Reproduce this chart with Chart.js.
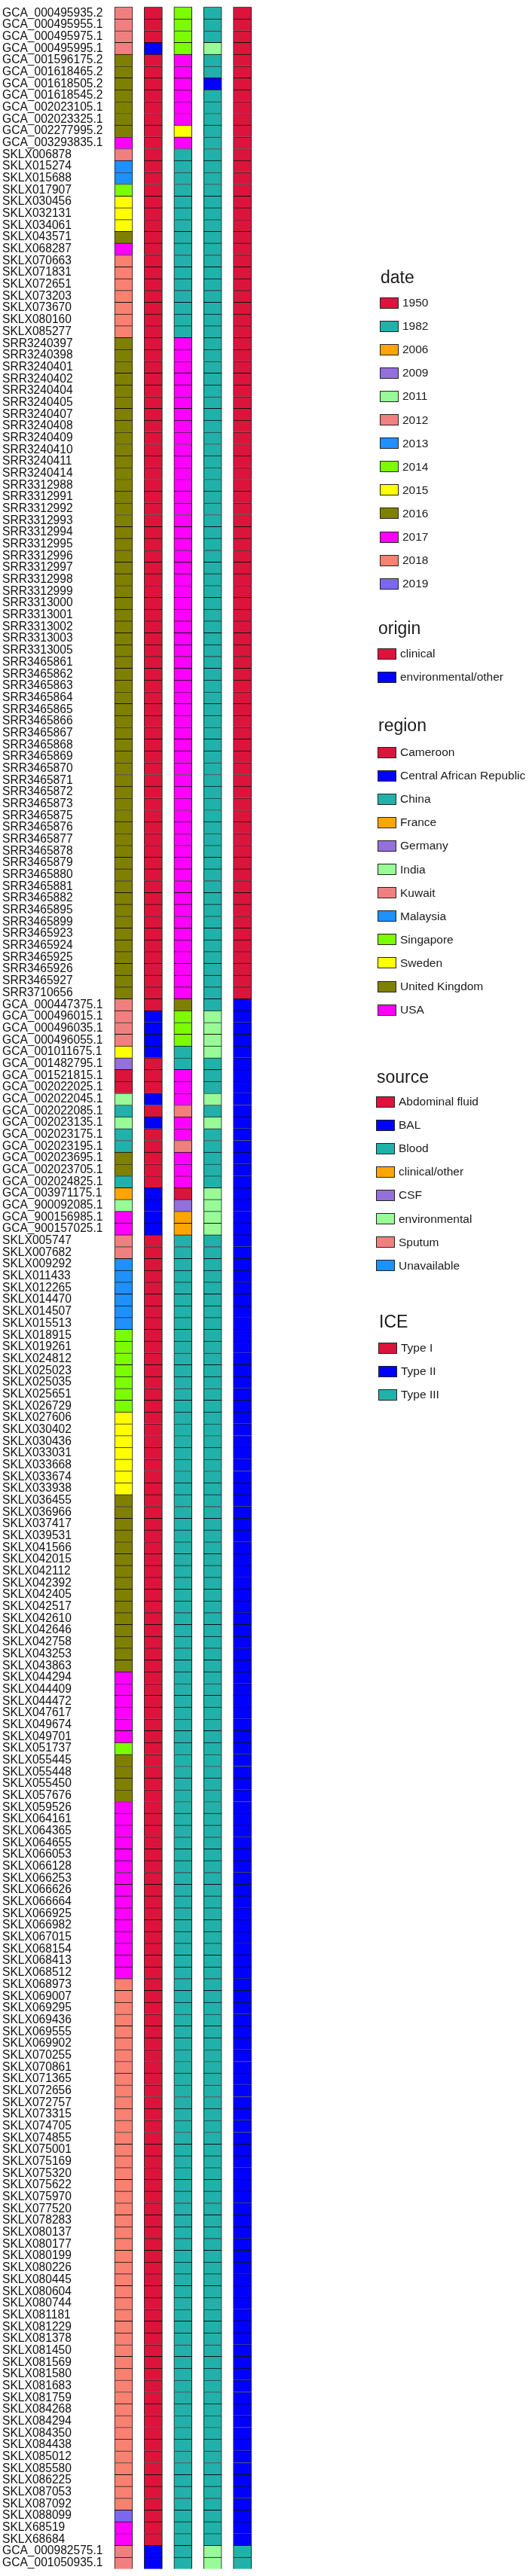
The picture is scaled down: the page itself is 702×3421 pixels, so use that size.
<!DOCTYPE html>
<html>
<head>
<meta charset="utf-8">
<script src="https://cdn.jsdelivr.net/npm/chart.js@4.4.0/dist/chart.umd.min.js"></script>
<style>
  html, body { margin: 0; padding: 0; background: #fff; }
  #wrap { position: relative; width: 702px; height: 3421px; }
  #heat-box { position: absolute; left: 0; top: 0; width: 702px; height: 3421px; }
  .lg { position: absolute; font-family: "Liberation Sans", Arial, sans-serif; color: #1a1a1a; white-space: nowrap; }
  .lg-title { font-size: 23px; line-height: 26px; }
  .lg-item { display: flex; align-items: center; font-size: 15.5px; height: 20px; }
  .lg-key { width: 25px; height: 15px; box-sizing: border-box; border: 1px solid #222; margin-right: 5px; }
</style>
</head>
<body>
<div id="wrap">
  <div id="heat-box"><canvas id="heatmap"></canvas></div>
  <div id="legend"></div>
</div>
<script>
// sample names, top to bottom
const sampleIds = [
  'GCA_000495935.2','GCA_000495955.1','GCA_000495975.1','GCA_000495995.1','GCA_001596175.2','GCA_001618465.2','GCA_001618505.2','GCA_001618545.2','GCA_002023105.1','GCA_002023325.1',
  'GCA_002277995.2','GCA_003293835.1','SKLX006878','SKLX015274','SKLX015688','SKLX017907','SKLX030456','SKLX032131','SKLX034061','SKLX043571',
  'SKLX068287','SKLX070663','SKLX071831','SKLX072651','SKLX073203','SKLX073670','SKLX080160','SKLX085277','SRR3240397','SRR3240398',
  'SRR3240401','SRR3240402','SRR3240404','SRR3240405','SRR3240407','SRR3240408','SRR3240409','SRR3240410','SRR3240411','SRR3240414',
  'SRR3312988','SRR3312991','SRR3312992','SRR3312993','SRR3312994','SRR3312995','SRR3312996','SRR3312997','SRR3312998','SRR3312999',
  'SRR3313000','SRR3313001','SRR3313002','SRR3313003','SRR3313005','SRR3465861','SRR3465862','SRR3465863','SRR3465864','SRR3465865',
  'SRR3465866','SRR3465867','SRR3465868','SRR3465869','SRR3465870','SRR3465871','SRR3465872','SRR3465873','SRR3465875','SRR3465876',
  'SRR3465877','SRR3465878','SRR3465879','SRR3465880','SRR3465881','SRR3465882','SRR3465895','SRR3465899','SRR3465923','SRR3465924',
  'SRR3465925','SRR3465926','SRR3465927','SRR3710656','GCA_000447375.1','GCA_000496015.1','GCA_000496035.1','GCA_000496055.1','GCA_001011675.1','GCA_001482795.1',
  'GCA_001521815.1','GCA_002022025.1','GCA_002022045.1','GCA_002022085.1','GCA_002023135.1','GCA_002023175.1','GCA_002023195.1','GCA_002023695.1','GCA_002023705.1','GCA_002024825.1',
  'GCA_003971175.1','GCA_900092085.1','GCA_900156985.1','GCA_900157025.1','SKLX005747','SKLX007682','SKLX009292','SKLX011433','SKLX012265','SKLX014470',
  'SKLX014507','SKLX015513','SKLX018915','SKLX019261','SKLX024812','SKLX025023','SKLX025035','SKLX025651','SKLX026729','SKLX027606',
  'SKLX030402','SKLX030436','SKLX033031','SKLX033668','SKLX033674','SKLX033938','SKLX036455','SKLX036966','SKLX037417','SKLX039531',
  'SKLX041566','SKLX042015','SKLX042112','SKLX042392','SKLX042405','SKLX042517','SKLX042610','SKLX042646','SKLX042758','SKLX043253',
  'SKLX043863','SKLX044294','SKLX044409','SKLX044472','SKLX047617','SKLX049674','SKLX049701','SKLX051737','SKLX055445','SKLX055448',
  'SKLX055450','SKLX057676','SKLX059526','SKLX064161','SKLX064365','SKLX064655','SKLX066053','SKLX066128','SKLX066253','SKLX066626',
  'SKLX066664','SKLX066925','SKLX066982','SKLX067015','SKLX068154','SKLX068413','SKLX068512','SKLX068973','SKLX069007','SKLX069295',
  'SKLX069436','SKLX069555','SKLX069902','SKLX070255','SKLX070861','SKLX071365','SKLX072656','SKLX072757','SKLX073315','SKLX074705',
  'SKLX074855','SKLX075001','SKLX075169','SKLX075320','SKLX075622','SKLX075970','SKLX077520','SKLX078283','SKLX080137','SKLX080177',
  'SKLX080199','SKLX080226','SKLX080445','SKLX080604','SKLX080744','SKLX081181','SKLX081229','SKLX081378','SKLX081450','SKLX081569',
  'SKLX081580','SKLX081683','SKLX081759','SKLX084268','SKLX084294','SKLX084350','SKLX084438','SKLX085012','SKLX085580','SKLX086225',
  'SKLX087053','SKLX087092','SKLX088099','SKLX68519','SKLX68684','GCA_000982575.1','GCA_001050935.1'
];

// legend levels and their colours
const dateLevels = [1950, 1982, 2006, 2009, 2011, 2012, 2013, 2014, 2015, 2016, 2017, 2018, 2019];
const dateColors = ['#DC143C','#20B2AA','#FFA500','#9370DB','#98FB98','#F08080','#1E90FF','#7CFC00','#FFFF00','#808000','#FF00FF','#FA8072','#7B68EE'];
const originLevels = ['clinical', 'environmental/other'];
const originColors = ['#DC143C', '#0000FF'];
const regionLevels = ['Cameroon','Central African Republic','China','France','Germany','India','Kuwait','Malaysia','Singapore','Sweden','United Kingdom','USA'];
const regionColors = ['#DC143C','#0000FF','#20B2AA','#FFA500','#9370DB','#98FB98','#F08080','#1E90FF','#7CFC00','#FFFF00','#808000','#FF00FF'];
const sourceLevels = ['Abdominal fluid','BAL','Blood','clinical/other','CSF','environmental','Sputum','Unavailable'];
const sourceColors = ['#DC143C','#0000FF','#20B2AA','#FFA500','#9370DB','#98FB98','#F08080','#1E90FF'];
const iceLevels = ['Type I','Type II','Type III'];
const iceColors = ['#DC143C','#0000FF','#20B2AA'];

// per-sample values (years, and indexes into the level lists above)
const dateValues = [
  2012,2012,2012,2012,2016,2016,2016,2016,2016,2016,
  2016,2017,2012,2013,2013,2014,2015,2015,2015,2016,
  2017,2018,2018,2018,2018,2018,2018,2018,2016,2016,
  2016,2016,2016,2016,2016,2016,2016,2016,2016,2016,
  2016,2016,2016,2016,2016,2016,2016,2016,2016,2016,
  2016,2016,2016,2016,2016,2016,2016,2016,2016,2016,
  2016,2016,2016,2016,2016,2016,2016,2016,2016,2016,
  2016,2016,2016,2016,2016,2016,2016,2016,2016,2016,
  2016,2016,2016,2016,2012,2012,2012,2012,2015,2009,
  1950,1950,2011,1982,2011,1982,1982,2016,2016,1982,
  2006,2011,2017,2017,2012,2012,2013,2013,2013,2013,
  2013,2013,2014,2014,2014,2014,2014,2014,2014,2015,
  2015,2015,2015,2015,2015,2015,2016,2016,2016,2016,
  2016,2016,2016,2016,2016,2016,2016,2016,2016,2016,
  2016,2017,2017,2017,2017,2017,2017,2014,2016,2016,
  2016,2016,2017,2017,2017,2017,2017,2017,2017,2017,
  2017,2017,2017,2017,2017,2017,2017,2018,2018,2018,
  2018,2018,2018,2018,2018,2018,2018,2018,2018,2018,
  2018,2018,2018,2018,2018,2018,2018,2018,2018,2018,
  2018,2018,2018,2018,2018,2018,2018,2018,2018,2018,
  2018,2018,2018,2018,2018,2018,2018,2018,2018,2018,
  2018,2018,2019,2017,2017,2012,2012
];
const originCodes = [
  0,0,0,1,0,0,0,0,0,0,  0,0,0,0,0,0,0,0,0,0,  0,0,0,0,0,0,0,0,0,0,
  0,0,0,0,0,0,0,0,0,0,  0,0,0,0,0,0,0,0,0,0,  0,0,0,0,0,0,0,0,0,0,
  0,0,0,0,0,0,0,0,0,0,  0,0,0,0,0,0,0,0,0,0,  0,0,0,0,0,1,1,1,1,0,
  0,0,1,0,1,0,0,0,0,0,  1,1,1,1,0,0,0,0,0,0,  0,0,0,0,0,0,0,0,0,0,
  0,0,0,0,0,0,0,0,0,0,  0,0,0,0,0,0,0,0,0,0,  0,0,0,0,0,0,0,0,0,0,
  0,0,0,0,0,0,0,0,0,0,  0,0,0,0,0,0,0,0,0,0,  0,0,0,0,0,0,0,0,0,0,
  0,0,0,0,0,0,0,0,0,0,  0,0,0,0,0,0,0,0,0,0,  0,0,0,0,0,0,0,0,0,0,
  0,0,0,0,0,1,1
];
const regionCodes = [
  8,8,8,8,11,11,11,11,11,11,  9,11,2,2,2,2,2,2,2,2,  2,2,2,2,2,2,2,2,11,11,
  11,11,11,11,11,11,11,11,11,11,  11,11,11,11,11,11,11,11,11,11,  11,11,11,11,11,11,11,11,11,11,
  11,11,11,11,11,11,11,11,11,11,  11,11,11,11,11,11,11,11,11,11,  11,11,11,11,10,8,8,8,2,2,
  11,11,11,6,11,11,6,11,11,11,  0,4,3,3,2,2,2,2,2,2,  2,2,2,2,2,2,2,2,2,2,
  2,2,2,2,2,2,2,2,2,2,  2,2,2,2,2,2,2,2,2,2,  2,2,2,2,2,2,2,2,2,2,
  2,2,2,2,2,2,2,2,2,2,  2,2,2,2,2,2,2,2,2,2,  2,2,2,2,2,2,2,2,2,2,
  2,2,2,2,2,2,2,2,2,2,  2,2,2,2,2,2,2,2,2,2,  2,2,2,2,2,2,2,2,2,2,
  2,2,2,2,2,2,2
];
const sourceCodes = [
  2,2,2,5,2,2,1,2,2,2,  2,2,2,2,2,2,2,2,2,2,  2,2,2,2,2,2,2,2,2,2,
  2,2,2,2,2,2,2,2,2,2,  2,2,2,2,2,2,2,2,2,2,  2,2,2,2,2,2,2,2,2,2,
  2,2,2,2,2,2,2,2,2,2,  2,2,2,2,2,2,2,2,2,2,  2,2,2,2,2,5,5,5,5,2,
  2,2,5,2,5,2,2,2,2,2,  5,5,5,5,2,2,2,2,2,2,  2,2,2,2,2,2,2,2,2,2,
  2,2,2,2,2,2,2,2,2,2,  2,2,2,2,2,2,2,2,2,2,  2,2,2,2,2,2,2,2,2,2,
  2,2,2,2,2,2,2,2,2,2,  2,2,2,2,2,2,2,2,2,2,  2,2,2,2,2,2,2,2,2,2,
  2,2,2,2,2,2,2,2,2,2,  2,2,2,2,2,2,2,2,2,2,  2,2,2,2,2,2,2,2,2,2,
  2,2,2,2,2,5,5
];
const iceCodes = [
  0,0,0,0,0,0,0,0,0,0,  0,0,0,0,0,0,0,0,0,0,  0,0,0,0,0,0,0,0,0,0,
  0,0,0,0,0,0,0,0,0,0,  0,0,0,0,0,0,0,0,0,0,  0,0,0,0,0,0,0,0,0,0,
  0,0,0,0,0,0,0,0,0,0,  0,0,0,0,0,0,0,0,0,0,  0,0,0,0,1,1,1,1,1,1,
  1,1,1,1,1,1,1,1,1,1,  1,1,1,1,1,1,1,1,1,1,  1,1,1,1,1,1,1,1,1,1,
  1,1,1,1,1,1,1,1,1,1,  1,1,1,1,1,1,1,1,1,1,  1,1,1,1,1,1,1,1,1,1,
  1,1,1,1,1,1,1,1,1,1,  1,1,1,1,1,1,1,1,1,1,  1,1,1,1,1,1,1,1,1,1,
  1,1,1,1,1,1,1,1,1,1,  1,1,1,1,1,1,1,1,1,1,  1,1,1,1,1,1,1,1,1,1,
  1,1,1,1,1,2,2
];

// one heatmap column per variable
const heatColumns = [
  { name: 'date',   colors: dateValues.map(y => dateColors[dateLevels.indexOf(y)]) },
  { name: 'origin', colors: originCodes.map(i => originColors[i]) },
  { name: 'region', colors: regionCodes.map(i => regionColors[i]) },
  { name: 'source', colors: sourceCodes.map(i => sourceColors[i]) },
  { name: 'ICE',    colors: iceCodes.map(i => iceColors[i]) }
];

const cellHalf = 0.305; // half width of a cell, in column units

const datasets = heatColumns.map((col, c) => ({
  label: col.name,
  data: sampleIds.map(() => [c - cellHalf, c + cellHalf]),
  backgroundColor: col.colors,
  borderColor: '#111',
  borderWidth: { top: 1, left: 1, right: 1, bottom: 0 },
  borderSkipped: false,
  grouped: false,
  barPercentage: 1,
  categoryPercentage: 1
}));

new Chart(document.getElementById('heatmap'), {
  type: 'bar',
  data: { labels: sampleIds, datasets },
  options: {
    indexAxis: 'y',
    responsive: true,
    maintainAspectRatio: false,
    animation: false,
    layout: { padding: { left: 3, top: 4.4, bottom: 5, right: 360.7 } },
    plugins: { legend: { display: false }, tooltip: { enabled: true } },
    scales: {
      x: { type: 'linear', min: -0.5, max: 4.5, display: false },
      y: {
        type: 'category',
        offset: true,
        grid: { display: false },
        border: { display: false },
        afterFit: (scale) => { scale.width = 141.3; },
        ticks: {
          autoSkip: false,
          crossAlign: 'far',
          padding: 0,
          color: '#111',
          font: { family: '"Liberation Sans", Arial, sans-serif', size: 15.6 }
        }
      }
    }
  }
});

// legend, drawn as html text next to the heatmap
const legendGroups = [
  { title: 'date',   levels: dateLevels.map(String), colors: dateColors },
  { title: 'origin', levels: originLevels, colors: originColors },
  { title: 'region', levels: regionLevels, colors: regionColors },
  { title: 'source', levels: sourceLevels, colors: sourceColors },
  { title: 'ICE',    levels: iceLevels, colors: iceColors }
];
const legendPlace = [
  { left: 504, titleY: 368, firstY: 402 },
  { left: 501, titleY: 834, firstY: 868 },
  { left: 501, titleY: 963, firstY: 999 },
  { left: 499, titleY: 1430, firstY: 1463 },
  { left: 502, titleY: 1755, firstY: 1790 }
];
const rowStep = 31.1;

const legendEl = document.getElementById('legend');
legendGroups.forEach((g, gi) => {
  const p = legendPlace[gi];
  const t = document.createElement('div');
  t.className = 'lg lg-title';
  t.textContent = g.title;
  t.style.left = (p.left + 1) + 'px';
  t.style.top = (p.titleY - 13) + 'px';
  legendEl.appendChild(t);
  g.levels.forEach((lv, i) => {
    const row = document.createElement('div');
    row.className = 'lg lg-item';
    row.style.left = p.left + 'px';
    row.style.top = (p.firstY + i * rowStep - 10) + 'px';
    const key = document.createElement('span');
    key.className = 'lg-key';
    key.style.background = g.colors[i];
    const txt = document.createElement('span');
    txt.textContent = lv;
    row.appendChild(key);
    row.appendChild(txt);
    legendEl.appendChild(row);
  });
});
</script>
</body>
</html>
